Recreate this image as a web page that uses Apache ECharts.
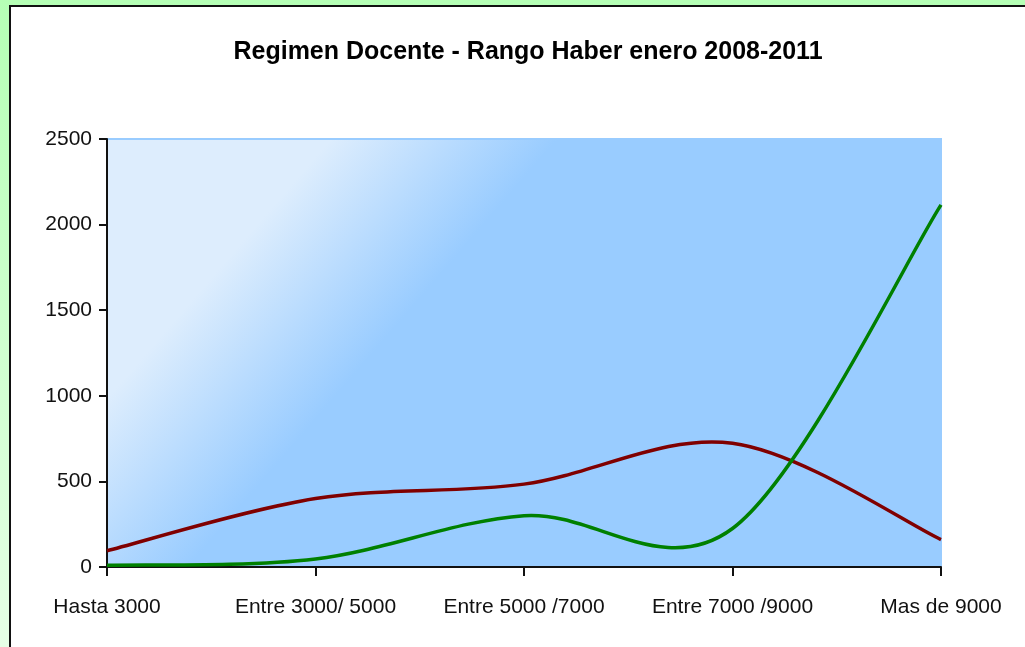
<!DOCTYPE html>
<html>
<head>
<meta charset="utf-8">
<title>Regimen Docente - Rango Haber</title>
<script src="https://cdn.jsdelivr.net/npm/echarts@6/dist/echarts.min.js"></script>
<style>
  html, body { margin: 0; padding: 0; }
  body {
    width: 1025px; height: 647px; overflow: hidden; position: relative;
    background: linear-gradient(to bottom, #b5ffb5, #e6ffe6);
  }
  #panel {
    position: absolute; left: 9px; top: 5px; width: 1030px; height: 660px;
    background: #fff; border-left: 2px solid #111; border-top: 2px solid #111;
  }
  #chart { position: absolute; left: 0; top: 0; width: 1025px; height: 647px; }
</style>
</head>
<body>
<div id="panel"></div>
<div id="chart"></div>
<script>
// rangos de haber (eje x)
var rangos = ['Hasta 3000', 'Entre 3000/ 5000', 'Entre 5000 /7000', 'Entre 7000 /9000', 'Mas de 9000'];
// serie roja
var serieRoja = [95, 400, 484, 723, 160];
// serie verde
var serieVerde = [10, 47, 300, 225, 2115];
// eje y
var yMin = 0, yMax = 2500, yPaso = 500;

var fuente = '"Liberation Sans", Arial, sans-serif';

// curva suavizada tipo Excel (Catmull-Rom) usando las coordenadas del eje
function curva(valores, color) {
  return {
    type: 'custom',
    data: valores.map(function (v, i) { return [i, v]; }),
    encode: { x: 0, y: 1 },
    renderItem: function (params, api) {
      if (params.dataIndex !== 0) return;
      var p = valores.map(function (v, i) { return api.coord([i, v]); });
      var d = 'M' + p[0][0] + ',' + p[0][1];
      for (var i = 0; i < p.length - 1; i++) {
        var p0 = p[i - 1] || p[i], p1 = p[i], p2 = p[i + 1], p3 = p[i + 2] || p[i + 1];
        var c1x = p1[0] + (p2[0] - p0[0]) / 6, c1y = p1[1] + (p2[1] - p0[1]) / 6;
        var c2x = p2[0] - (p3[0] - p1[0]) / 6, c2y = p2[1] - (p3[1] - p1[1]) / 6;
        d += ' C' + c1x + ',' + c1y + ' ' + c2x + ',' + c2y + ' ' + p2[0] + ',' + p2[1];
      }
      return {
        type: 'path',
        shape: { pathData: d },
        style: { fill: 'none', stroke: color, lineWidth: 3.5, lineJoin: 'round' }
      };
    }
  };
}

var chart = echarts.init(document.getElementById('chart'));
chart.setOption({
  backgroundColor: 'transparent',
  animation: false,
  title: {
    text: 'Regimen Docente - Rango Haber enero 2008-2011',
    left: 523,
    textAlign: 'center',
    top: 35,
    textStyle: { fontFamily: fuente, fontSize: 25, fontWeight: 'bold', color: '#000' }
  },
  grid: {
    left: 107, right: 84, top: 139, bottom: 80,
    show: true,
    borderColor: '#99ccff',
    borderWidth: 2,
    backgroundColor: new echarts.graphic.LinearGradient(0, 0, 0.31, 0.52, [
      { offset: 0, color: '#ddedfd' },
      { offset: 0.5, color: '#ddedfd' },
      { offset: 1, color: '#99ccff' }
    ])
  },
  xAxis: {
    type: 'category',
    data: rangos,
    boundaryGap: false,
    axisLine: { lineStyle: { color: '#111', width: 2 } },
    axisTick: { show: true, interval: 0, length: 9, lineStyle: { color: '#111', width: 2 } },
    axisLabel: { interval: 0, color: '#111', fontFamily: fuente, fontSize: 21, margin: 30 },
    splitLine: { show: false }
  },
  yAxis: {
    type: 'value',
    min: yMin, max: yMax, interval: yPaso,
    axisLine: { show: true, lineStyle: { color: '#111', width: 2 } },
    axisTick: { show: true, length: 8, lineStyle: { color: '#111', width: 2 } },
    axisLabel: {
      color: '#111', fontFamily: fuente, fontSize: 21, margin: 15,
      formatter: function (v) { return String(v); }
    },
    splitLine: { show: false }
  },
  series: [
    curva(serieRoja, '#800000'),
    curva(serieVerde, '#008000')
  ]
});
</script>
</body>
</html>
